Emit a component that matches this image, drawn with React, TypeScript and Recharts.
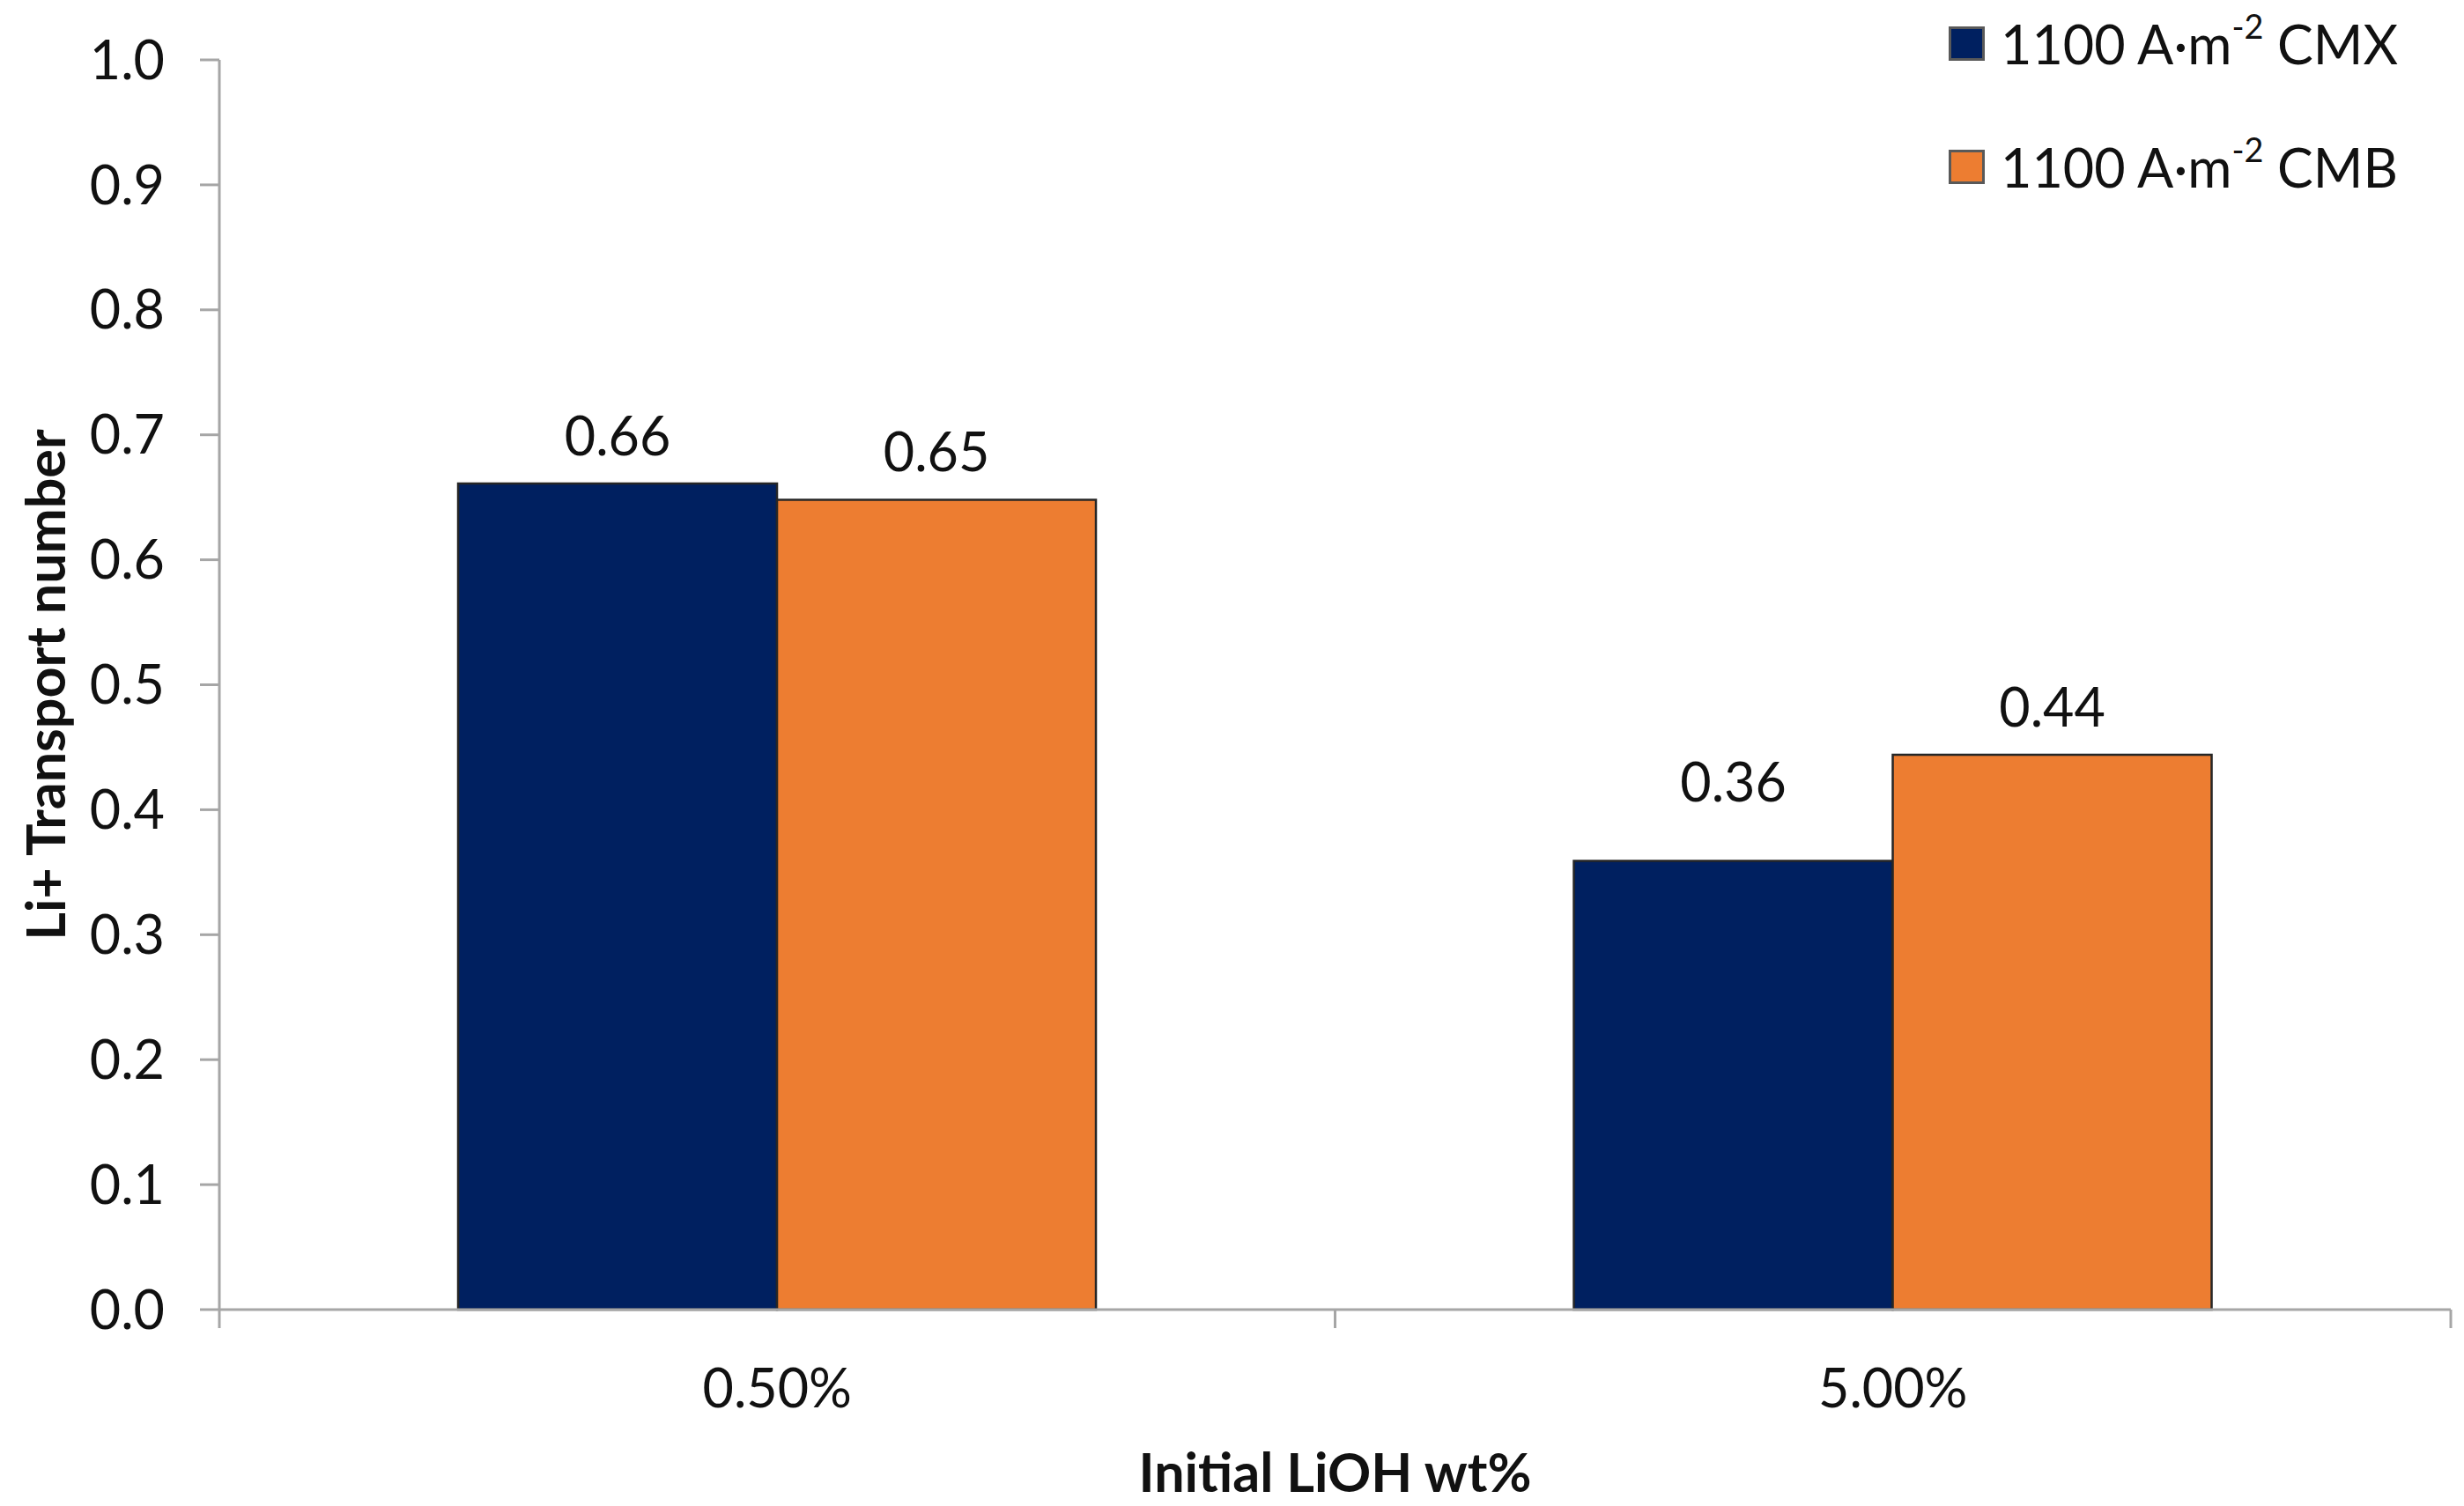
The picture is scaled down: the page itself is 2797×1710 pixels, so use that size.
import React from "react";
import { BarChart, Bar, XAxis, YAxis, Legend, LabelList, Label } from "recharts";

// values
const categories = ["0.50%", "5.00%"];
const cmxValues = [0.661, 0.359];
const cmbValues = [0.648, 0.444];
const yTicks = [0, 0.1, 0.2, 0.3, 0.4, 0.5, 0.6, 0.7, 0.8, 0.9, 1.0];
const seriesNames = ["1100 A·m^-2 CMX", "1100 A·m^-2 CMB"];
const xTitle = "Initial LiOH wt%";
const yTitle = "Li+ Transport number";

const NAVY = "#002060";
const ORANGE = "#ED7D31";
const AXIS = "#A6A6A6";
const FONT = "Lato, 'Noto Sans', sans-serif";
const FS = 61;

const data = categories.map((c, i) => ({ cat: c, cmx: cmxValues[i], cmb: cmbValues[i] }));

// Excel left the 0.36 label further above its bar
const labelLift: Record<string, number[]> = { cmx: [0, 36], cmb: [0, 0] };

function valueLabel(key: string) {
  return (props: any) => {
    const { x, y, width, value, index } = props;
    const lift = labelLift[key][index] ?? 0;
    return (
      <text
        x={x + width / 2}
        y={y - 32 - lift}
        textAnchor="middle"
        fontFamily={FONT}
        fontSize={FS}
        fill="#111"
      >
        {Number(value).toFixed(2)}
      </text>
    );
  };
}

// category label plus Excel-style tick marks on the category edges
function CategoryTick(props: any) {
  const { x, y, payload, index, visibleTicksCount } = props;
  const half = payload?.offset || 633;
  return (
    <g>
      <line x1={x - half} x2={x - half} y1={y} y2={y + 21} stroke={AXIS} strokeWidth={3} />
      {index === visibleTicksCount - 1 && (
        <line x1={x + half} x2={x + half} y1={y} y2={y + 21} stroke={AXIS} strokeWidth={3} />
      )}
      <text x={x} y={y + 111} textAnchor="middle" fontFamily={FONT} fontSize={FS} fill="#111">
        {payload.value}
      </text>
    </g>
  );
}

function SeriesName({ name }: { name: string }) {
  const [head, rest] = name.split("^");
  if (rest === undefined) return <span>{name}</span>;
  const sp = rest.indexOf(" ");
  return (
    <span>
      {head}
      <span style={{ fontSize: "0.62em", position: "relative", top: "-0.75em" }}>{rest.slice(0, sp)}</span>
      {rest.slice(sp)}
    </span>
  );
}

function LegendBox(props: any) {
  const { payload = [] } = props;
  const items = [...payload].sort(
    (a: any, b: any) => seriesNames.indexOf(a.value) - seriesNames.indexOf(b.value)
  );
  return (
    <div style={{ fontFamily: FONT, fontSize: FS, color: "#111" }}>
      {items.map((p: any) => (
        <div
          key={p.value}
          style={{ display: "flex", alignItems: "center", height: 70, marginBottom: 70, whiteSpace: "nowrap" }}
        >
          <span
            style={{
              display: "inline-block",
              width: 35,
              height: 33,
              background: p.color,
              border: "3px solid #595959",
              marginRight: 18,
            }}
          />
          <SeriesName name={p.value} />
        </div>
      ))}
    </div>
  );
}

function YTitle(props: any) {
  const vb = props.viewBox || { y: 68, height: 1419 };
  const cx = 50;
  const cy = vb.y + vb.height / 2;
  return (
    <text
      x={cx}
      y={cy}
      transform={`rotate(-90 ${cx} ${cy})`}
      textAnchor="middle"
      dominantBaseline="central"
      fontFamily={FONT}
      fontSize={FS}
      fontWeight={700}
      fill="#111"
    >
      {yTitle}
    </text>
  );
}

export default function App() {
  return (
    <div style={{ width: 2797, height: 1710, background: "#fff" }}>
      <style>{`body{margin:0;background:#fff}`}</style>
      <BarChart
        width={2797}
        height={1710}
        data={data}
        margin={{ top: 68, right: 15, bottom: 0, left: 0 }}
        barCategoryGap="21.4%"
        barGap={0}
      >
        <XAxis
          dataKey="cat"
          height={223}
          axisLine={{ stroke: AXIS, strokeWidth: 3 }}
          tickLine={false}
          tickSize={0}
          tickMargin={0}
          tick={<CategoryTick />}
          interval={0}
        >
          <Label
            value={xTitle}
            position="insideBottom"
            offset={16}
            style={{ fontFamily: FONT, fontSize: FS, fontWeight: 700, fill: "#111" }}
          />
        </XAxis>
        <YAxis
          width={249}
          domain={[0, 1]}
          ticks={yTicks}
          interval={0}
          tickFormatter={(v: number) => v.toFixed(1)}
          axisLine={{ stroke: AXIS, strokeWidth: 3 }}
          tickLine={{ stroke: AXIS, strokeWidth: 3 }}
          tickSize={22}
          tickMargin={40}
          tick={{ fontFamily: FONT, fontSize: FS, fill: "#111" }}
        >
          <Label content={<YTitle />} />
        </YAxis>
        <Legend
          layout="horizontal"
          verticalAlign="middle"
          align="center"
          content={<LegendBox />}
          wrapperStyle={{ top: 14, left: 2212, width: 585, height: 220 }}
        />
        <Bar dataKey="cmx" name={seriesNames[0]} fill={NAVY} stroke="#262626" strokeWidth={2.5} isAnimationActive={false}>
          <LabelList dataKey="cmx" content={valueLabel("cmx")} />
        </Bar>
        <Bar dataKey="cmb" name={seriesNames[1]} fill={ORANGE} stroke="#262626" strokeWidth={2.5} isAnimationActive={false}>
          <LabelList dataKey="cmb" content={valueLabel("cmb")} />
        </Bar>
      </BarChart>
    </div>
  );
}
